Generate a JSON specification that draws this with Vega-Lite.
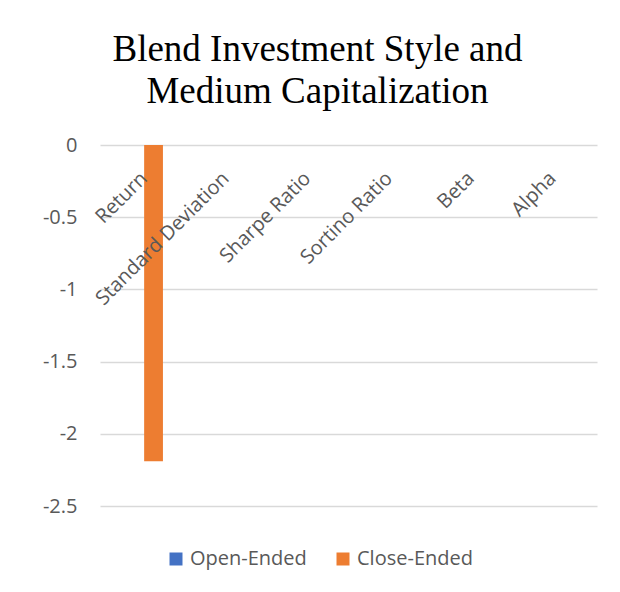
{
  "$schema": "https://vega.github.io/schema/vega-lite/v6.json",
  "width": 497,
  "height": 361,
  "autosize": "none",
  "padding": {"left": 100, "top": 145, "right": 23, "bottom": 86},
  "background": "white",
  "title": {
    "text": ["Blend Investment Style and", "Medium Capitalization"],
    "font": "Liberation Serif",
    "fontSize": 37,
    "fontWeight": "normal",
    "color": "#000000",
    "anchor": "middle",
    "dx": -31,
    "offset": 24,
    "lineHeight": 42
  },
  "data": {
    "values": [
      {"metric": "Return", "fund": "Open-Ended", "value": 0},
      {"metric": "Return", "fund": "Close-Ended", "value": -2.19},
      {"metric": "Standard Deviation", "fund": "Open-Ended", "value": 0},
      {"metric": "Standard Deviation", "fund": "Close-Ended", "value": 0},
      {"metric": "Sharpe Ratio", "fund": "Open-Ended", "value": 0},
      {"metric": "Sharpe Ratio", "fund": "Close-Ended", "value": 0},
      {"metric": "Sortino Ratio", "fund": "Open-Ended", "value": 0},
      {"metric": "Sortino Ratio", "fund": "Close-Ended", "value": 0},
      {"metric": "Beta", "fund": "Open-Ended", "value": 0},
      {"metric": "Beta", "fund": "Close-Ended", "value": 0},
      {"metric": "Alpha", "fund": "Open-Ended", "value": 0},
      {"metric": "Alpha", "fund": "Close-Ended", "value": 0}
    ]
  },
  "mark": {"type": "bar"},
  "encoding": {
    "x": {
      "field": "metric",
      "type": "nominal",
      "sort": ["Return", "Standard Deviation", "Sharpe Ratio", "Sortino Ratio", "Beta", "Alpha"],
      "scale": {"paddingInner": 0.54, "paddingOuter": 0.31},
      "axis": {
        "orient": "bottom",
        "offset": -361,
        "zindex": 2,
        "title": null,
        "domain": false,
        "ticks": false,
        "grid": false,
        "labelAngle": -45,
        "labelAlign": "right",
        "labelBaseline": "middle",
        "labelPadding": 30,
        "labelFont": "Open Sans",
        "labelFontSize": 20,
        "labelColor": "#595959"
      }
    },
    "xOffset": {
      "field": "fund",
      "type": "nominal",
      "sort": ["Open-Ended", "Close-Ended"],
      "scale": {"paddingInner": 0, "paddingOuter": 0}
    },
    "y": {
      "field": "value",
      "type": "quantitative",
      "scale": {"domain": [-2.5, 0], "nice": false},
      "axis": {
        "title": null,
        "values": [0, -0.5, -1, -1.5, -2, -2.5],
        "labelExpr": "toString(datum.value)",
        "grid": true,
        "gridColor": "#d9d9d9",
        "gridWidth": 1.3,
        "domain": false,
        "ticks": false,
        "labelPadding": 23,
        "labelFont": "Open Sans",
        "labelFontSize": 20,
        "labelColor": "#595959"
      }
    },
    "color": {
      "field": "fund",
      "type": "nominal",
      "sort": ["Open-Ended", "Close-Ended"],
      "scale": {"domain": ["Open-Ended", "Close-Ended"], "range": ["#4472C4", "#ED7D31"]},
      "legend": {
        "orient": "none",
        "legendX": 66,
        "legendY": 404,
        "direction": "horizontal",
        "title": null,
        "symbolType": "square",
        "symbolSize": 169,
        "symbolStrokeWidth": 0,
        "labelFont": "Open Sans",
        "labelFontSize": 20,
        "labelColor": "#595959",
        "columnPadding": 26
      }
    }
  },
  "config": {"view": {"stroke": null}}
}
